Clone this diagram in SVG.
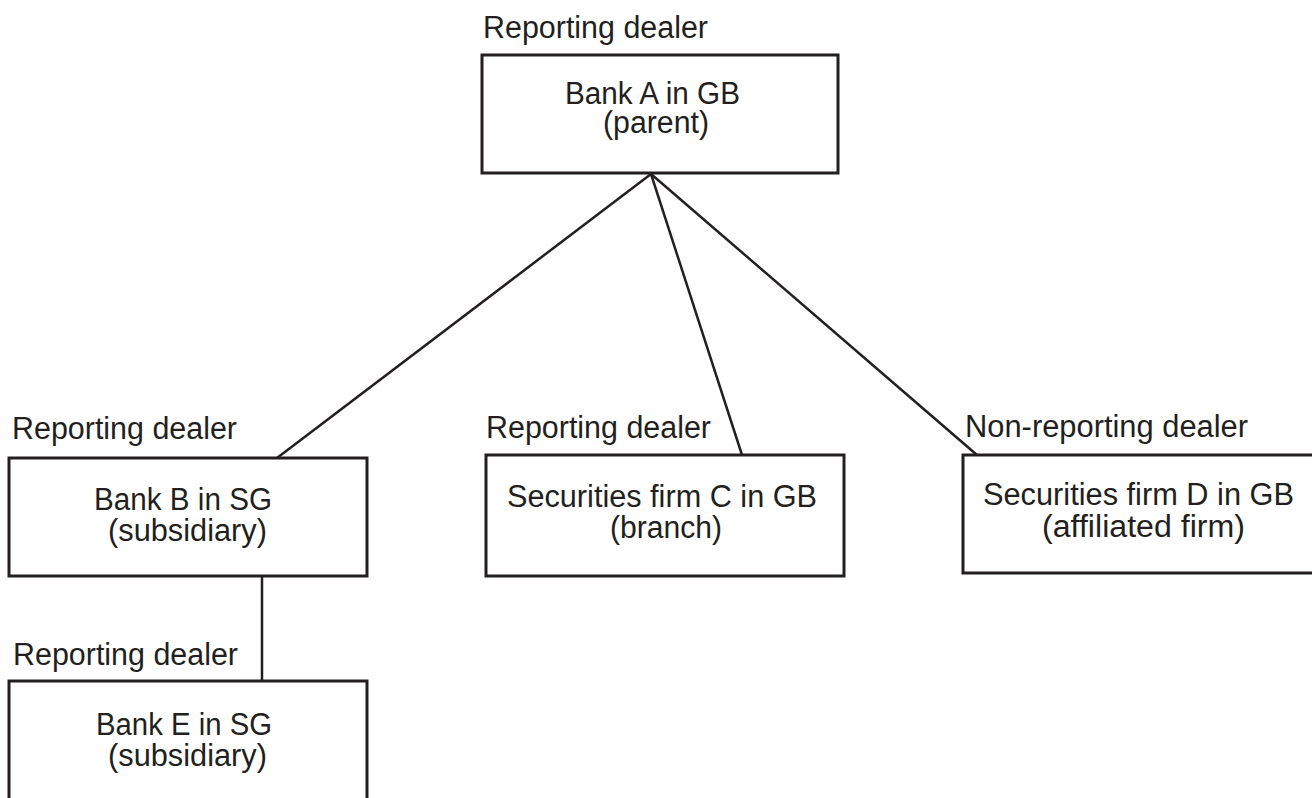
<svg xmlns="http://www.w3.org/2000/svg" width="1312" height="798" viewBox="0 0 1312 798">
<style>
.box{fill:#fff;stroke:#231f20;stroke-width:3}
.t{font-family:"Liberation Sans",Arial,sans-serif;font-size:31px;fill:#231f20}
.c{text-anchor:middle}
.ln{stroke:#231f20;stroke-width:2.5;fill:none}
</style>
<rect width="1312" height="798" fill="#fff"/>
<g id="connectors">
<line class="ln" x1="651" y1="174" x2="277" y2="458"/>
<line class="ln" x1="651" y1="174" x2="742" y2="455"/>
<line class="ln" x1="651" y1="174" x2="977" y2="455"/>
<line class="ln" x1="262" y1="576" x2="262" y2="681"/>
</g>
<g id="nodeA">
<text class="t" x="483" y="38" textLength="225" lengthAdjust="spacingAndGlyphs">Reporting dealer</text>
<rect class="box" x="482" y="55" width="356" height="118"/>
<text class="t c" x="652.5" y="104" textLength="175" lengthAdjust="spacingAndGlyphs">Bank A in GB</text>
<text class="t c" x="656" y="133" textLength="106" lengthAdjust="spacingAndGlyphs">(parent)</text>
</g>
<g id="nodeB">
<text class="t" x="12" y="439" textLength="225" lengthAdjust="spacingAndGlyphs">Reporting dealer</text>
<rect class="box" x="9" y="458" width="358" height="118"/>
<text class="t c" x="183" y="510" textLength="178" lengthAdjust="spacingAndGlyphs">Bank B in SG</text>
<text class="t c" x="187.5" y="541" textLength="159" lengthAdjust="spacingAndGlyphs">(subsidiary)</text>
</g>
<g id="nodeC">
<text class="t" x="486" y="438" textLength="225" lengthAdjust="spacingAndGlyphs">Reporting dealer</text>
<rect class="box" x="486" y="455" width="358" height="121"/>
<text class="t c" x="662" y="507" textLength="310" lengthAdjust="spacingAndGlyphs">Securities firm C in GB</text>
<text class="t c" x="666" y="538" textLength="112" lengthAdjust="spacingAndGlyphs">(branch)</text>
</g>
<g id="nodeD">
<text class="t" x="965" y="437" textLength="283" lengthAdjust="spacingAndGlyphs">Non-reporting dealer</text>
<rect class="box" x="963" y="455" width="360" height="118"/>
<text class="t c" x="1138.5" y="505" textLength="311" lengthAdjust="spacingAndGlyphs">Securities firm D in GB</text>
<text class="t c" x="1143.5" y="537" textLength="203" lengthAdjust="spacingAndGlyphs">(affiliated firm)</text>
</g>
<g id="nodeE">
<text class="t" x="13" y="665" textLength="225" lengthAdjust="spacingAndGlyphs">Reporting dealer</text>
<rect class="box" x="9" y="681" width="358" height="130"/>
<text class="t c" x="184" y="735" textLength="176" lengthAdjust="spacingAndGlyphs">Bank E in SG</text>
<text class="t c" x="187.5" y="766" textLength="159" lengthAdjust="spacingAndGlyphs">(subsidiary)</text>
</g>
</svg>
